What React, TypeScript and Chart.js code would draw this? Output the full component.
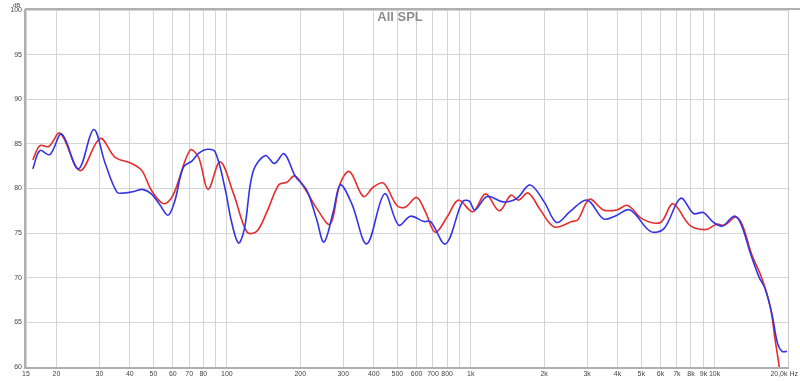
import React, { useEffect, useRef } from 'react';
import { Chart, registerables } from 'chart.js';

Chart.register(...registerables);

const CHART_TITLE = 'All SPL';
const Y_UNIT = 'dB';
const LAST_X_LABEL = '20,0k Hz';

const blueFreq = [16, 17.1, 18.8, 21, 24.6, 28.4, 31.7, 35.4, 38, 42, 45, 49, 53, 57.3, 61, 66.3, 72, 77, 83, 89.5, 98.6, 104, 111.5, 118, 128, 143.7, 156.7, 171.7, 190.5, 212.6, 233, 250, 273, 292, 325, 375, 443, 506, 566, 642, 684, 789, 924, 985, 1040, 1168, 1362, 1545, 1752, 2000, 2250, 2550, 3000, 3500, 3900, 4500, 5450, 6200, 7260, 8200, 9000, 9900, 10800, 12000, 12800, 14000, 15200, 16100, 17200, 18100, 18900, 19800];
const blueDb = [82.2, 84.25, 83.8, 86.1, 82.2, 86.6, 82.8, 79.6, 79.5, 79.7, 79.9, 79.4, 78.2, 77.0, 78.5, 82.4, 83.1, 84.0, 84.4, 84.1, 79.8, 76.5, 73.9, 75.5, 81.9, 83.7, 82.8, 83.9, 81.4, 79.8, 76.6, 74.0, 77.4, 80.4, 78.3, 73.8, 79.4, 75.9, 76.9, 76.3, 76.3, 73.8, 78.5, 78.6, 77.6, 79.1, 78.5, 78.9, 80.4, 78.5, 76.2, 77.4, 78.7, 76.6, 76.9, 77.6, 75.2, 75.5, 78.9, 77.2, 77.3, 76.2, 75.8, 76.9, 76.1, 72.8, 70.1, 68.8, 65.9, 62.7, 61.75, 61.75];

const redFreq = [16, 17.1, 18.6, 20.7, 25, 30.2, 34.8, 40.7, 44.8, 49, 55, 60, 70.6, 76.5, 83.7, 93.8, 106.5, 121, 132.5, 146, 163, 176, 190, 213, 233, 265, 290, 318, 363, 400, 439, 498, 539, 600, 651, 716, 800, 890, 1020, 1150, 1310, 1460, 1570, 1720, 1930, 2200, 2600, 2750, 3070, 3500, 3970, 4400, 5050, 6000, 6750, 7900, 9200, 10200, 11000, 12200, 13000, 14200, 15600, 16900, 17700, 18400, 19000];
const redDb = [83.2, 84.8, 84.7, 86.2, 82.0, 85.6, 83.5, 82.8, 82.0, 79.8, 78.3, 79.2, 84.3, 83.5, 79.9, 83.0, 79.4, 75.1, 75.2, 77.4, 80.4, 80.7, 81.4, 79.6, 77.8, 76.0, 80.4, 81.9, 79.1, 80.2, 80.6, 78.1, 77.9, 79.0, 77.4, 75.1, 76.8, 78.7, 77.4, 79.4, 77.5, 79.25, 78.7, 79.5, 77.6, 75.7, 76.3, 76.5, 78.8, 77.6, 77.6, 78.1, 76.6, 76.2, 78.3, 75.9, 75.4, 76.0, 75.9, 76.8, 75.9, 72.6, 70.0, 66.8, 63.1, 60.1, 57.0];

const xTickValues = [15, 20, 30, 40, 50, 60, 70, 80, 90, 100, 200, 300, 400, 500, 600, 700, 800, 900, 1000, 2000, 3000, 4000, 5000, 6000, 7000, 8000, 9000, 10000, 20000];
const xTickLabels = ['15', '20', '30', '40', '50', '60', '70', '80', '', '100', '200', '300', '400', '500', '600', '700', '800', '', '1k', '2k', '3k', '4k', '5k', '6k', '7k', '8k', '9k', '10k', ''];

const FONT = "'Liberation Sans', Arial, sans-serif";

export default function App() {
  const ref = useRef<HTMLCanvasElement | null>(null);

  useEffect(() => {
    if (!ref.current) return;
    const decor = {
      id: 'decor',
      beforeDatasetsDraw(chart: any) {
        const { ctx, chartArea } = chart;
        const { left, right, top, bottom } = chartArea;
        ctx.save();
        ctx.strokeStyle = '#b0b0b0';
        ctx.lineWidth = 2;
        ctx.beginPath();
        ctx.moveTo(left - 1, top - 1);
        ctx.lineTo(800, top - 1);
        ctx.moveTo(left - 1, top - 1);
        ctx.lineTo(left - 1, bottom + 1);
        ctx.lineTo(right + 1, bottom + 1);
        ctx.stroke();
        ctx.lineWidth = 1;
        ctx.strokeStyle = '#c8c8c8';
        ctx.beginPath();
        ctx.moveTo(right + 0.5, top);
        ctx.lineTo(right + 0.5, bottom);
        ctx.stroke();
        ctx.fillStyle = '#8c8c8c';
        ctx.font = `bold 13px ${FONT}`;
        ctx.textAlign = 'center';
        ctx.textBaseline = 'alphabetic';
        ctx.fillText(CHART_TITLE, 400, 21);
        ctx.restore();
      },
      afterDraw(chart: any) {
        const { ctx, chartArea } = chart;
        ctx.save();
        ctx.fillStyle = '#444';
        ctx.font = `6px ${FONT}`;
        ctx.textAlign = 'center';
        ctx.textBaseline = 'alphabetic';
        ctx.fillText(Y_UNIT, 16.5, 7);
        ctx.font = `7px ${FONT}`;
        ctx.textAlign = 'right';
        ctx.textBaseline = 'middle';
        ctx.fillText(LAST_X_LABEL, 798, chartArea.bottom + 7.5);
        ctx.restore();
      },
    };

    const chart = new Chart(ref.current, {
      type: 'line',
      data: {
        datasets: [
          {
            label: 'Blue',
            data: blueFreq.map((f, i) => ({ x: f, y: blueDb[i] })),
            borderColor: 'rgb(52,52,228)',
            borderWidth: 1.6,
            pointRadius: 0,
            tension: 0.35,
            clip: 0,
          },
          {
            label: 'Red',
            data: redFreq.map((f, i) => ({ x: f, y: redDb[i] })),
            borderColor: 'rgb(230,45,45)',
            borderWidth: 1.6,
            pointRadius: 0,
            tension: 0.35,
            clip: 0,
          },
        ],
      },
      options: {
        animation: false,
        responsive: false,
        devicePixelRatio: 1,
        layout: { padding: { top: 10, right: 12, left: 0, bottom: 0 } },
        plugins: { legend: { display: false }, tooltip: { enabled: false }, title: { display: false } },
        scales: {
          x: {
            type: 'logarithmic',
            min: 15,
            max: 20000,
            afterBuildTicks: (s: any) => {
              s.ticks = xTickValues.map((v) => ({ value: v }));
            },
            afterFit: (s: any) => {
              s.height = 14;
              s.paddingLeft = 0;
              s.paddingRight = 0;
            },
            ticks: {
              autoSkip: false,
              maxRotation: 0,
              minRotation: 0,
              padding: 3,
              color: '#444',
              font: { family: FONT, size: 7 },
              callback: (_v: any, i: number) => xTickLabels[i],
            },
            grid: { color: '#d4d4d4', lineWidth: 1, drawTicks: false },
            border: { display: false },
          },
          y: {
            min: 60,
            max: 100,
            afterFit: (s: any) => {
              s.width = 26;
              s.paddingTop = 0;
              s.paddingBottom = 0;
            },
            ticks: {
              stepSize: 5,
              padding: 4,
              color: '#444',
              font: { family: FONT, size: 7 },
            },
            grid: { color: '#d4d4d4', lineWidth: 1, drawTicks: false },
            border: { display: false },
          },
        },
      },
      plugins: [decor],
    } as any);
    return () => chart.destroy();
  }, []);

  return (
    <div style={{ position: 'fixed', left: 0, top: 0, width: 800, height: 381, background: '#fff' }}>
      <canvas ref={ref} width={800} height={381} style={{ width: 800, height: 381, display: 'block' }} />
    </div>
  );
}
